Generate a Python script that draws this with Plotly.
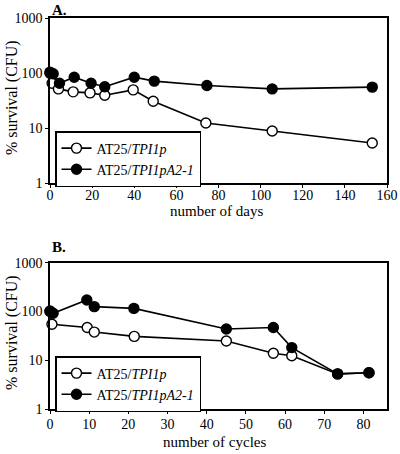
import plotly.graph_objects as go

# Panel A data (days)
a_open_x = [0, 1, 4, 11, 19, 26, 39.5, 49, 74, 105.5, 153]
a_open_y = [100, 66, 52, 46, 44, 40, 50, 31, 12.5, 8.9, 5.4]
a_fill_x = [0, 1.5, 4.5, 11.5, 19.5, 26, 40, 49.5, 74.5, 105.5, 153]
a_fill_y = [105, 98, 66, 85, 66, 57, 85, 72, 60, 52, 56]

# Panel B data (cycles)
b_open_x = [0, 0.5, 9.5, 11.3, 21.5, 45, 57, 61.7, 73.4, 81.4]
b_open_y = [100, 55, 47, 38, 31, 25, 14, 12.5, 5.3, 5.6]
b_fill_x = [0, 0.8, 9.4, 11.3, 21.4, 45, 57, 61.7, 73.4, 81.4]
b_fill_y = [103, 92, 172, 126, 116, 44, 47, 18.3, 5.3, 5.6]

y_ticks = [1, 10, 100, 1000]
y_ticktext = ["1", "10", "100", "1000"]
name_open = "AT25/<i>TPI1p</i>"
name_fill = "AT25/<i>TPI1pA2-1</i>"

FONT = "Liberation Serif"

fig = go.Figure()

def add(x, y, name, filled, xa, ya, legend):
    fig.add_trace(go.Scatter(
        x=x, y=y, name=name, mode="lines+markers", xaxis=xa, yaxis=ya,
        legend=legend, cliponaxis=False,
        line=dict(color="black", width=1.6),
        marker=dict(size=10, color="black" if filled else "white",
                    line=dict(color="black", width=1.4)),
    ))

add(a_open_x, a_open_y, name_open, False, "x", "y", "legend")
add(a_fill_x, a_fill_y, name_fill, True, "x", "y", "legend")
add(b_open_x, b_open_y, name_open, False, "x2", "y2", "legend2")
add(b_fill_x, b_fill_y, name_fill, True, "x2", "y2", "legend2")

axis_common = dict(showline=True, linecolor="black", linewidth=1.5, mirror=True,
                   ticks="outside", ticklen=3, tickcolor="black", showgrid=False,
                   zeroline=False, automargin=False,
                   tickfont=dict(size=14, family=FONT, color="black"))

leg_common = dict(xanchor="left", yanchor="top", bordercolor="black", borderwidth=1.5,
                  bgcolor="white", font=dict(size=14, family=FONT), tracegroupgap=0,
                  itemwidth=30, itemsizing="trace")

def txt(text, x, y, size=15, **kw):
    return dict(text=text, x=x / 400, y=1 - y / 454, xref="paper", yref="paper", showarrow=False,
                font=dict(size=size, family=FONT, color="black"), **kw)

fig.update_layout(
    width=400, height=454,
    margin=dict(l=0, r=0, t=0, b=0),
    paper_bgcolor="white", plot_bgcolor="white",
    font=dict(family=FONT, color="black", size=14),
    xaxis=dict(domain=[0.125, 0.9675], range=[0, 160], tickvals=[0, 20, 40, 60, 80, 100, 120, 140, 160],
               anchor="y", ticklabelstandoff=-5, **axis_common),
    yaxis=dict(domain=[0.5963, 0.9597], type="log", range=[0, 3], tickvals=y_ticks, ticktext=y_ticktext,
               anchor="x", **axis_common),
    xaxis2=dict(domain=[0.125, 0.9675], range=[0, 86], tickvals=[0, 10, 20, 30, 40, 50, 60, 70, 80],
                anchor="y2", ticklabelstandoff=-2, **axis_common),
    yaxis2=dict(domain=[0.0985, 0.4214], type="log", range=[0, 3], tickvals=y_ticks, ticktext=y_ticktext,
                anchor="x2", **axis_common),
    legend=dict(x=0.1375, y=1 - 131 / 454, **leg_common),
    legend2=dict(x=0.1375, y=1 - 356 / 454, **leg_common),
    annotations=[
        txt("<b>A.</b>", 50, 10, xanchor="left", yanchor="middle"),
        txt("<b>B.</b>", 50, 247, xanchor="left", yanchor="middle"),
        txt("number of days", 216, 211, xanchor="center", yanchor="middle"),
        txt("number of cycles", 214, 442, xanchor="center", yanchor="middle"),
        txt("% survival (CFU)", 12, 98, size=16, textangle=-90, xanchor="center", yanchor="middle"),
        txt("% survival (CFU)", 12, 333, size=16, textangle=-90, xanchor="center", yanchor="middle"),
    ],
)

fig.write_html("out.html", config={"displayModeBar": False},
               post_script="document.body.style.margin='0';document.body.style.overflow='hidden';")
